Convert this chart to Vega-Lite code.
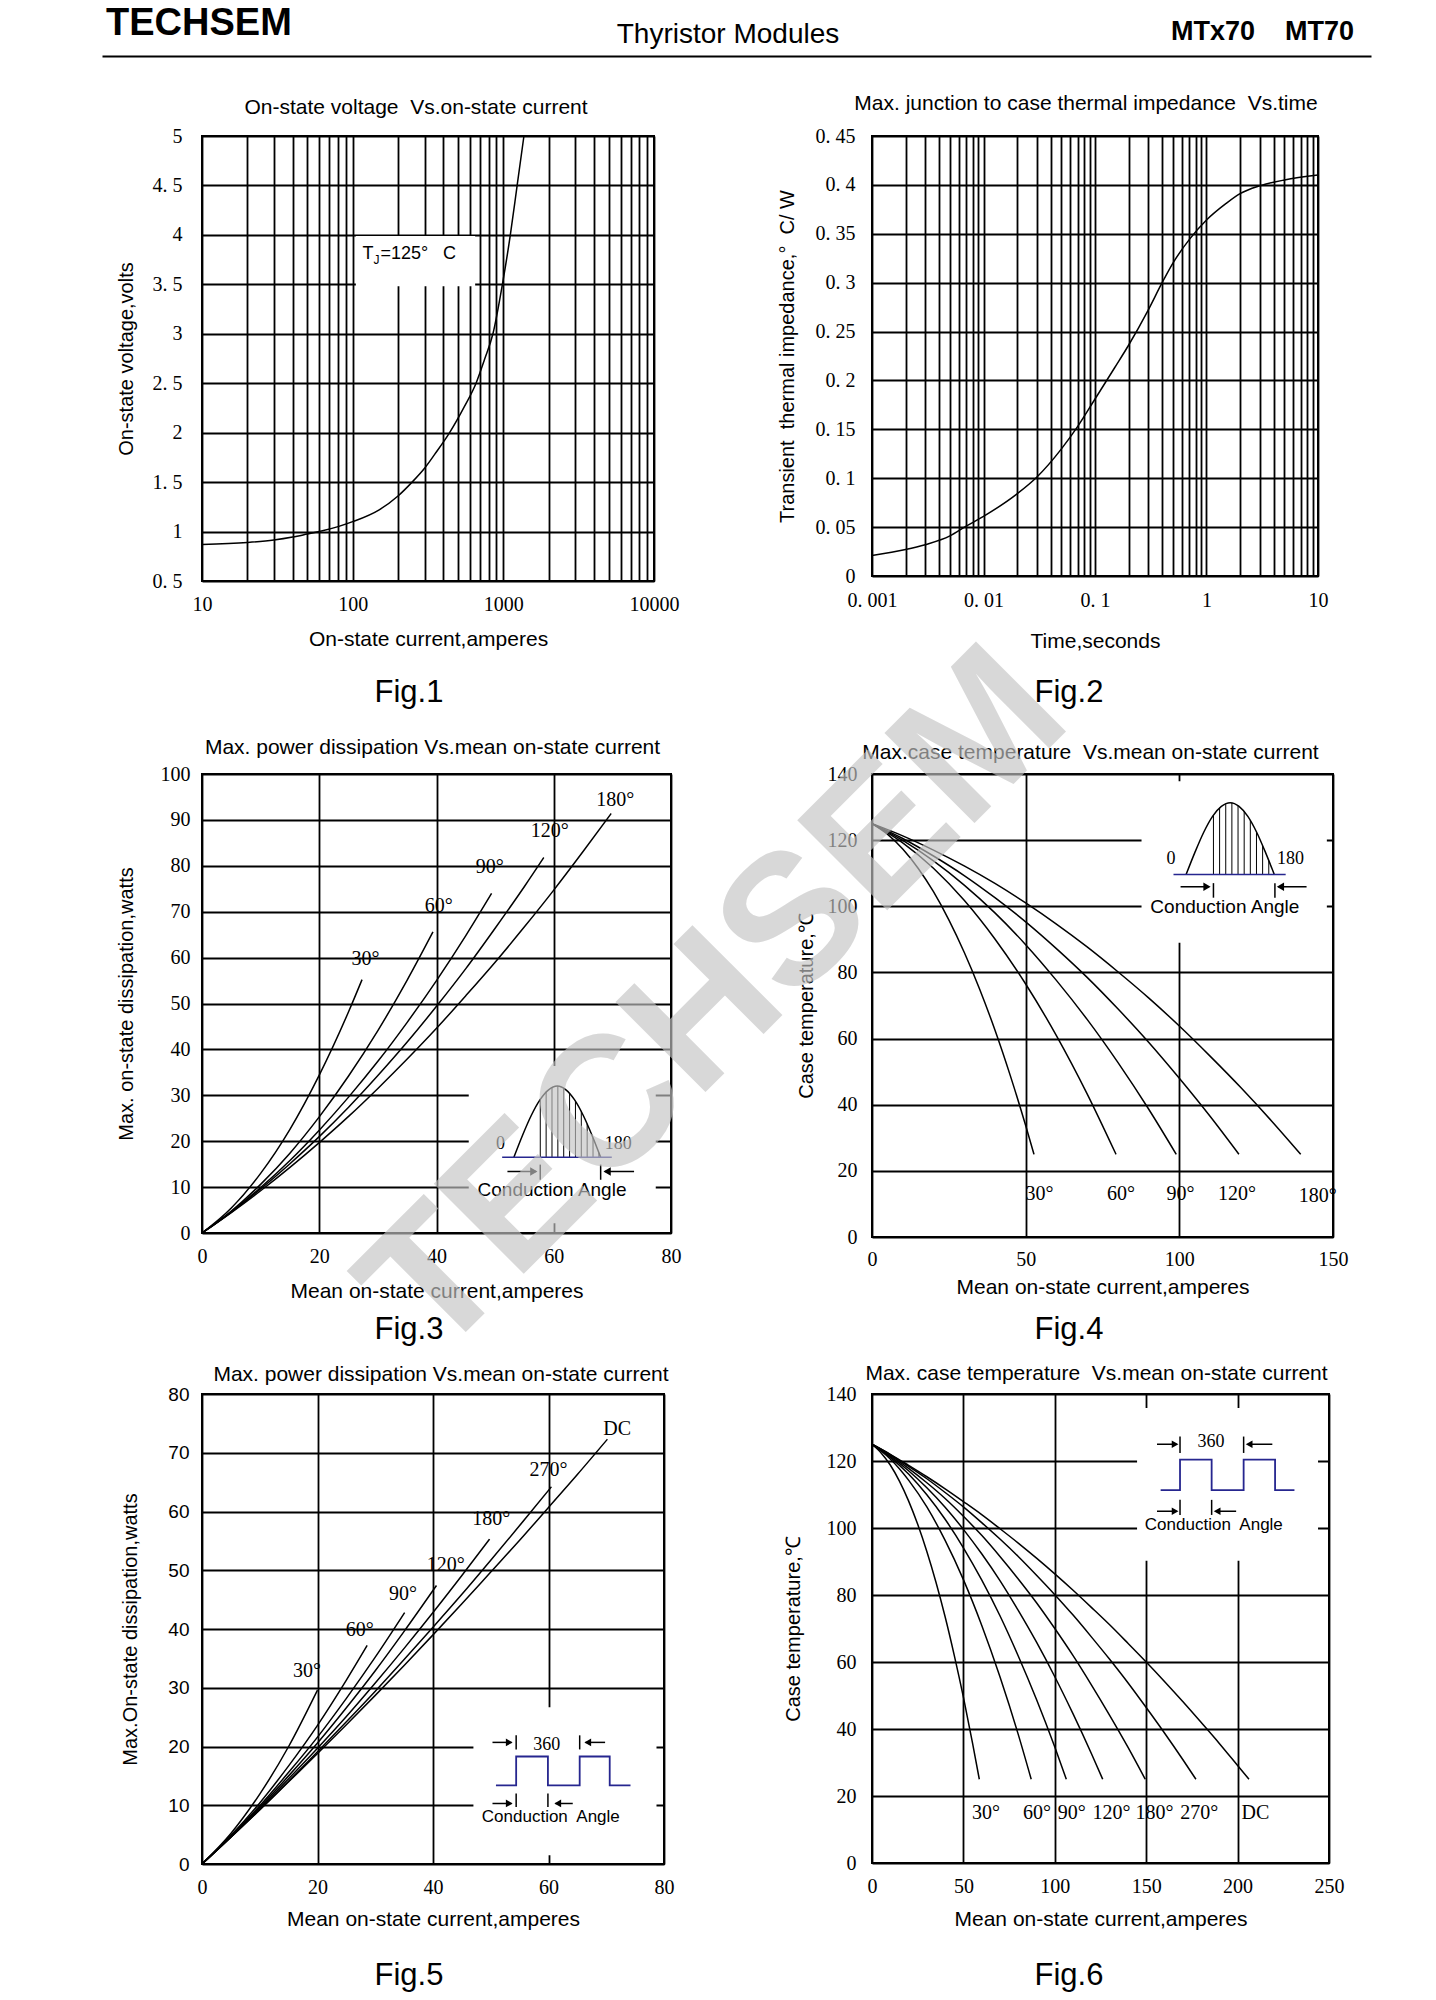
{
"$schema":"https://vega.github.io/schema/vega-lite/v6.json",
"padding":{"left":106,"top":5,"right":0,"bottom":0},
"autosize":{"type":"pad"},
"background":"white",
"config":{
 "view":{"stroke":"black","strokeWidth":2},
 "axis":{"grid":true,"gridColor":"black","gridWidth":1.8,"gridOpacity":1,"domain":false,"ticks":false,"labelFont":"Liberation Serif","labelFontSize":20,"labelColor":"black","titleFont":"Liberation Sans","titleFontSize":20,"titleFontWeight":"normal","titleColor":"black","labelOverlap":false,"labelBound":false,"labelFlush":false},
 "axisX":{"titleFontSize":21},
 "title":{"font":"Liberation Sans","fontSize":21,"fontWeight":"normal","color":"black","anchor":"middle","frame":"group","baseline":"alphabetic"}
},
"datasets":{
 "c1":[{"x":10,"y":0.87},{"x":20,"y":0.89},{"x":30,"y":0.915},{"x":40,"y":0.945},{"x":50,"y":0.975},{"x":60,"y":1.0},{"x":80,"y":1.05},{"x":100,"y":1.1},{"x":150,"y":1.22},{"x":200,"y":1.36},{"x":248,"y":1.5},{"x":300,"y":1.64},{"x":350,"y":1.78},{"x":440,"y":2.0},{"x":550,"y":2.26},{"x":659,"y":2.5},{"x":750,"y":2.74},{"x":853,"y":3.0},{"x":986,"y":3.5},{"x":1113,"y":4.0},{"x":1235,"y":4.5},{"x":1370,"y":5.0}],
 "w1":[{"x":105,"x2":650,"y":3.48,"y2":3.99}],
 "c2":[{"x":0.001,"y":0.021},{"x":0.002,"y":0.027},{"x":0.003,"y":0.032},{"x":0.005,"y":0.041},{"x":0.007,"y":0.051},{"x":0.01,"y":0.061},{"x":0.02,"y":0.084},{"x":0.03,"y":0.101},{"x":0.05,"y":0.13},{"x":0.07,"y":0.153},{"x":0.1,"y":0.181},{"x":0.15,"y":0.213},{"x":0.2,"y":0.236},{"x":0.3,"y":0.272},{"x":0.4,"y":0.3},{"x":0.5,"y":0.32},{"x":0.7,"y":0.344},{"x":1,"y":0.364},{"x":1.5,"y":0.381},{"x":2,"y":0.391},{"x":3,"y":0.399},{"x":5,"y":0.405},{"x":10,"y":0.41}],
 "c3":[
  {"s":"30","x":0,"y":0},{"s":"30","x":5,"y":5.45},{"s":"30","x":10,"y":13.0},{"s":"30","x":15,"y":22.6},{"s":"30","x":20,"y":34.4},{"s":"30","x":25,"y":48.2},{"s":"30","x":27.3,"y":55.2},
  {"s":"60","x":0,"y":0},{"s":"60","x":5,"y":4.77},{"s":"60","x":10,"y":10.6},{"s":"60","x":15,"y":17.4},{"s":"60","x":20,"y":25.3},{"s":"60","x":25,"y":34.2},{"s":"60","x":30,"y":44.1},{"s":"60","x":35,"y":55.1},{"s":"60","x":39.4,"y":65.6},
  {"s":"90","x":0,"y":0},{"s":"90","x":5,"y":4.62},{"s":"90","x":10,"y":9.9},{"s":"90","x":15,"y":15.8},{"s":"90","x":20,"y":22.4},{"s":"90","x":25,"y":29.6},{"s":"90","x":30,"y":37.4},{"s":"90","x":35,"y":45.9},{"s":"90","x":40,"y":55.0},{"s":"90","x":45,"y":64.8},{"s":"90","x":49.4,"y":74.0},
  {"s":"120","x":0,"y":0},{"s":"120","x":5,"y":4.56},{"s":"120","x":10,"y":9.6},{"s":"120","x":15,"y":15.1},{"s":"120","x":20,"y":21.0},{"s":"120","x":25,"y":27.4},{"s":"120","x":30,"y":34.3},{"s":"120","x":35,"y":41.6},{"s":"120","x":40,"y":49.4},{"s":"120","x":45,"y":57.6},{"s":"120","x":50,"y":66.4},{"s":"120","x":55,"y":75.5},{"s":"120","x":58.3,"y":81.8},
  {"s":"180","x":0,"y":0},{"s":"180","x":5,"y":4.44},{"s":"180","x":10,"y":9.2},{"s":"180","x":15,"y":14.3},{"s":"180","x":20,"y":19.7},{"s":"180","x":25,"y":25.4},{"s":"180","x":30,"y":31.5},{"s":"180","x":35,"y":37.9},{"s":"180","x":40,"y":44.6},{"s":"180","x":45,"y":51.7},{"s":"180","x":50,"y":59.0},{"s":"180","x":55,"y":66.7},{"s":"180","x":60,"y":74.7},{"s":"180","x":65,"y":83.1},{"s":"180","x":69.8,"y":91.4}],
 "w3":[{"x":45.5,"x2":77.4,"y":2.1,"y2":36.4}],
 "l3":[{"t":"30°","x":27.9,"y":59.8},{"t":"60°","x":40.4,"y":71.3},{"t":"90°","x":49.1,"y":79.8},{"t":"120°","x":59.3,"y":87.5},{"t":"180°","x":70.5,"y":94.4}],
 "s3":[{"x":53.2,"y":16.5},{"x":54.68,"y":21.3},{"x":56.16,"y":25.6},{"x":57.64,"y":29.0},{"x":59.12,"y":31.2},{"x":60.6,"y":32.0},{"x":62.08,"y":31.2},{"x":63.56,"y":29.0},{"x":65.04,"y":25.6},{"x":66.52,"y":21.3},{"x":68.0,"y":16.5}],
 "h3":[{"x":57.7,"y":16.5,"y2":29.2},{"x":58.7,"y":16.5,"y2":30.8},{"x":59.7,"y":16.5,"y2":31.7},{"x":60.7,"y":16.5,"y2":32.0},{"x":61.7,"y":16.5,"y2":31.6},{"x":62.7,"y":16.5,"y2":30.5},{"x":63.7,"y":16.5,"y2":28.8},{"x":64.7,"y":16.5,"y2":26.5},{"x":65.7,"y":16.5,"y2":23.8},{"x":66.7,"y":16.5,"y2":20.7},{"x":67.7,"y":16.5,"y2":17.5}],
 "b3":[{"x":51.2,"x2":69.9,"y":16.5}],
 "n3":[{"t":"0","x":50.9,"y":19.3},{"t":"180","x":71.0,"y":19.3}],
 "a3":[{"x":52.1,"x2":57.0,"y":13.4},{"x":73.7,"x2":68.7,"y":13.4}],
 "a3r":[{"x":56.6,"y":13.4}],
 "a3l":[{"x":69.1,"y":13.4}],
 "k3":[{"x":57.7,"y":11.6,"y2":14.9},{"x":68.0,"y":11.6,"y2":14.9}],
 "ca3":[{"t":"Conduction Angle","x":59.7,"y":9.3}],
 "c4":[
  {"s":"30","x":0,"y":125},{"s":"30","x":5,"y":121.8},{"s":"30","x":10,"y":117.3},{"s":"30","x":15,"y":111.5},{"s":"30","x":20,"y":104.4},{"s":"30","x":25,"y":95.9},{"s":"30","x":30,"y":86.1},{"s":"30","x":35,"y":75.0},{"s":"30","x":40,"y":62.6},{"s":"30","x":45,"y":48.8},{"s":"30","x":50,"y":33.7},{"s":"30","x":52.7,"y":25},
  {"s":"60","x":0,"y":125},{"s":"60","x":10,"y":119.2},{"s":"60","x":20,"y":111.5},{"s":"60","x":30,"y":101.8},{"s":"60","x":40,"y":90.1},{"s":"60","x":50,"y":76.5},{"s":"60","x":60,"y":60.9},{"s":"60","x":70,"y":43.3},{"s":"60","x":79.4,"y":25},
  {"s":"90","x":0,"y":125},{"s":"90","x":10,"y":119.9},{"s":"90","x":20,"y":113.7},{"s":"90","x":30,"y":106.4},{"s":"90","x":40,"y":98.0},{"s":"90","x":50,"y":88.4},{"s":"90","x":60,"y":77.6},{"s":"90","x":70,"y":65.8},{"s":"90","x":80,"y":52.8},{"s":"90","x":90,"y":38.7},{"s":"90","x":99,"y":25},
  {"s":"120","x":0,"y":125},{"s":"120","x":10,"y":120.5},{"s":"120","x":20,"y":115.2},{"s":"120","x":30,"y":109.3},{"s":"120","x":40,"y":102.6},{"s":"120","x":50,"y":95.3},{"s":"120","x":60,"y":87.2},{"s":"120","x":70,"y":78.5},{"s":"120","x":80,"y":69.0},{"s":"120","x":90,"y":58.9},{"s":"120","x":100,"y":48.0},{"s":"120","x":110,"y":36.5},{"s":"120","x":119.4,"y":25},
  {"s":"180","x":0,"y":125},{"s":"180","x":10,"y":121.3},{"s":"180","x":20,"y":117.0},{"s":"180","x":30,"y":112.2},{"s":"180","x":40,"y":106.9},{"s":"180","x":50,"y":101.0},{"s":"180","x":60,"y":94.6},{"s":"180","x":70,"y":87.7},{"s":"180","x":80,"y":80.2},{"s":"180","x":90,"y":72.3},{"s":"180","x":100,"y":63.8},{"s":"180","x":110,"y":54.7},{"s":"180","x":120,"y":45.2},{"s":"180","x":130,"y":35.1},{"s":"180","x":139.5,"y":25}],
 "w4":[{"x":87.7,"x2":148,"y":89,"y2":137.8}],
 "l4":[{"t":"30°","x":54.5,"y":13.1},{"t":"60°","x":81,"y":13.1},{"t":"90°","x":100.4,"y":13.1},{"t":"120°","x":118.8,"y":13.1},{"t":"180°","x":145,"y":12.5}],
 "s4":[{"x":102.2,"y":109.6},{"x":105.07,"y":116.3},{"x":107.94,"y":122.4},{"x":110.81,"y":127.2},{"x":113.68,"y":130.2},{"x":116.55,"y":131.3},{"x":119.42,"y":130.2},{"x":122.29,"y":127.2},{"x":125.16,"y":122.4},{"x":128.03,"y":116.3},{"x":130.9,"y":109.6}],
 "h4":[{"x":111.1,"y":109.6,"y2":127.5},{"x":113.1,"y":109.6,"y2":129.8},{"x":115.1,"y":109.6,"y2":131.0},{"x":117.1,"y":109.6,"y2":131.3},{"x":119.1,"y":109.6,"y2":130.5},{"x":121.1,"y":109.6,"y2":128.7},{"x":123.1,"y":109.6,"y2":126.0},{"x":125.1,"y":109.6,"y2":122.4},{"x":127.1,"y":109.6,"y2":118.3},{"x":129.1,"y":109.6,"y2":113.8}],
 "b4":[{"x":98.1,"x2":134.6,"y":109.6}],
 "n4":[{"t":"0","x":97.3,"y":114.3},{"t":"180","x":136.2,"y":114.3}],
 "a4":[{"x":100.4,"x2":109.6,"y":105.9},{"x":141.4,"x2":132.2,"y":105.9}],
 "a4r":[{"x":109.0,"y":105.9}],
 "a4l":[{"x":132.9,"y":105.9}],
 "k4":[{"x":111.1,"y":102.6,"y2":107.0},{"x":131.1,"y":102.6,"y2":107.0}],
 "ca4":[{"t":"Conduction Angle","x":114.8,"y":99.8}],
 "wm":[{"t":"TECHSEM","x":1.24,"y":2.49}],
 "c5":[
  {"s":"30","x":0,"y":0},{"s":"30","x":5,"y":5.2},{"s":"30","x":10,"y":11.9},{"s":"30","x":15,"y":20.0},{"s":"30","x":20,"y":29.6},
  {"s":"60","x":0,"y":0},{"s":"60","x":5,"y":4.85},{"s":"60","x":10,"y":10.4},{"s":"60","x":15,"y":16.7},{"s":"60","x":20,"y":23.6},{"s":"60","x":25,"y":31.3},{"s":"60","x":28.6,"y":37.2},
  {"s":"90","x":0,"y":0},{"s":"90","x":5,"y":4.73},{"s":"90","x":10,"y":9.9},{"s":"90","x":15,"y":15.6},{"s":"90","x":20,"y":21.6},{"s":"90","x":25,"y":28.2},{"s":"90","x":30,"y":35.2},{"s":"90","x":35.1,"y":42.8},
  {"s":"120","x":0,"y":0},{"s":"120","x":5,"y":4.66},{"s":"120","x":10,"y":9.66},{"s":"120","x":15,"y":15.0},{"s":"120","x":20,"y":20.6},{"s":"120","x":25,"y":26.6},{"s":"120","x":30,"y":32.9},{"s":"120","x":35,"y":39.6},{"s":"120","x":40.6,"y":47.4},
  {"s":"180","x":0,"y":0},{"s":"180","x":5,"y":4.6},{"s":"180","x":10,"y":9.42},{"s":"180","x":15,"y":14.5},{"s":"180","x":20,"y":19.7},{"s":"180","x":25,"y":25.1},{"s":"180","x":30,"y":30.8},{"s":"180","x":35,"y":36.7},{"s":"180","x":40,"y":42.8},{"s":"180","x":45,"y":49.1},{"s":"180","x":49.8,"y":55.3},
  {"s":"270","x":0,"y":0},{"s":"270","x":5,"y":4.57},{"s":"270","x":10,"y":9.27},{"s":"270","x":15,"y":14.1},{"s":"270","x":20,"y":19.1},{"s":"270","x":25,"y":24.2},{"s":"270","x":30,"y":29.4},{"s":"270","x":35,"y":34.8},{"s":"270","x":40,"y":40.3},{"s":"270","x":45,"y":45.9},{"s":"270","x":50,"y":51.7},{"s":"270","x":55,"y":57.6},{"s":"270","x":60.5,"y":64.2},
  {"s":"DC","x":0,"y":0},{"s":"DC","x":5,"y":4.56},{"s":"DC","x":10,"y":9.2},{"s":"DC","x":15,"y":14.0},{"s":"DC","x":20,"y":18.8},{"s":"DC","x":25,"y":23.7},{"s":"DC","x":30,"y":28.7},{"s":"DC","x":35,"y":33.8},{"s":"DC","x":40,"y":39.0},{"s":"DC","x":45,"y":44.3},{"s":"DC","x":50,"y":49.7},{"s":"DC","x":55,"y":55.1},{"s":"DC","x":60,"y":60.7},{"s":"DC","x":65,"y":66.3},{"s":"DC","x":70.2,"y":72.3}],
 "w5":[{"x":47,"x2":78.7,"y":1.5,"y2":26.7}],
 "l5":[{"t":"DC","x":71.9,"y":74.1},{"t":"270°","x":60.0,"y":67.0},{"t":"180°","x":50.1,"y":58.8},{"t":"120°","x":42.2,"y":50.9},{"t":"90°","x":34.8,"y":45.9},{"t":"60°","x":27.3,"y":39.9},{"t":"30°","x":18.2,"y":32.9}],
 "q5":[{"o":1,"x":50.9,"y":13.4},{"o":2,"x":54.4,"y":13.4},{"o":3,"x":54.4,"y":18.3},{"o":4,"x":59.9,"y":18.3},{"o":5,"x":59.9,"y":13.4},{"o":6,"x":65.4,"y":13.4},{"o":7,"x":65.4,"y":18.3},{"o":8,"x":70.6,"y":18.3},{"o":9,"x":70.6,"y":13.4},{"o":10,"x":74.2,"y":13.4}],
 "a5":[{"x":50.3,"x2":53.6,"y":20.7},{"x":69.8,"x2":66.4,"y":20.7},{"x":50.3,"x2":53.6,"y":10.3},{"x":64.2,"x2":61.2,"y":10.3}],
 "a5r":[{"x":53.2,"y":20.7},{"x":53.2,"y":10.3}],
 "a5l":[{"x":66.8,"y":20.7},{"x":61.6,"y":10.3}],
 "k5":[{"x":54.4,"y":19.5,"y2":21.9},{"x":65.4,"y":19.5,"y2":21.9},{"x":54.4,"y":9.7,"y2":12.0},{"x":59.9,"y":9.7,"y2":12.0}],
 "n5":[{"t":"360","x":59.7,"y":20.2}],
 "ca5":[{"t":"Conduction\u00a0 Angle","x":60.4,"y":8.0}],
 "c6":[
  {"s":"30","x":0,"y":125},{"s":"30","x":5,"y":122.4},{"s":"30","x":10,"y":118.8},{"s":"30","x":15,"y":114.0},{"s":"30","x":20,"y":108.1},{"s":"30","x":25,"y":101.1},{"s":"30","x":30,"y":93.0},{"s":"30","x":35,"y":83.8},{"s":"30","x":40,"y":73.5},{"s":"30","x":45,"y":62.0},{"s":"30","x":50,"y":49.5},{"s":"30","x":55,"y":35.8},{"s":"30","x":58.7,"y":25},
  {"s":"60","x":0,"y":125},{"s":"60","x":10,"y":120.6},{"s":"60","x":20,"y":114.3},{"s":"60","x":30,"y":106.3},{"s":"60","x":40,"y":96.3},{"s":"60","x":50,"y":84.6},{"s":"60","x":60,"y":71.0},{"s":"60","x":70,"y":55.6},{"s":"60","x":80,"y":38.4},{"s":"60","x":87.1,"y":25},
  {"s":"90","x":0,"y":125},{"s":"90","x":10,"y":121.1},{"s":"90","x":20,"y":116.1},{"s":"90","x":30,"y":109.9},{"s":"90","x":40,"y":102.6},{"s":"90","x":50,"y":94.1},{"s":"90","x":60,"y":84.5},{"s":"90","x":70,"y":73.8},{"s":"90","x":80,"y":61.8},{"s":"90","x":90,"y":48.8},{"s":"90","x":100,"y":34.6},{"s":"90","x":106.3,"y":25},
  {"s":"120","x":0,"y":125},{"s":"120","x":10,"y":121.4},{"s":"120","x":20,"y":117.1},{"s":"120","x":30,"y":112.0},{"s":"120","x":40,"y":106.2},{"s":"120","x":50,"y":99.6},{"s":"120","x":60,"y":92.3},{"s":"120","x":70,"y":84.3},{"s":"120","x":80,"y":75.4},{"s":"120","x":90,"y":65.9},{"s":"120","x":100,"y":55.6},{"s":"120","x":110,"y":44.5},{"s":"120","x":120,"y":32.7},{"s":"120","x":126.2,"y":25},
  {"s":"180","x":0,"y":125},{"s":"180","x":10,"y":121.7},{"s":"180","x":20,"y":117.8},{"s":"180","x":30,"y":113.5},{"s":"180","x":40,"y":108.8},{"s":"180","x":50,"y":103.5},{"s":"180","x":60,"y":97.8},{"s":"180","x":70,"y":91.5},{"s":"180","x":80,"y":84.8},{"s":"180","x":90,"y":77.7},{"s":"180","x":100,"y":70.0},{"s":"180","x":110,"y":61.9},{"s":"180","x":120,"y":53.2},{"s":"180","x":130,"y":44.1},{"s":"180","x":140,"y":34.6},{"s":"180","x":149.5,"y":25},
  {"s":"270","x":0,"y":125},{"s":"270","x":10,"y":121.9},{"s":"270","x":20,"y":118.4},{"s":"270","x":30,"y":114.7},{"s":"270","x":40,"y":110.6},{"s":"270","x":50,"y":106.3},{"s":"270","x":60,"y":101.6},{"s":"270","x":70,"y":96.7},{"s":"270","x":80,"y":91.5},{"s":"270","x":90,"y":85.9},{"s":"270","x":100,"y":80.1},{"s":"270","x":110,"y":74.0},{"s":"270","x":120,"y":67.5},{"s":"270","x":130,"y":60.8},{"s":"270","x":140,"y":53.8},{"s":"270","x":150,"y":46.4},{"s":"270","x":160,"y":38.8},{"s":"270","x":170,"y":30.9},{"s":"270","x":177.2,"y":25},
  {"s":"DC","x":0,"y":125},{"s":"DC","x":10,"y":122.0},{"s":"DC","x":20,"y":118.7},{"s":"DC","x":30,"y":115.3},{"s":"DC","x":40,"y":111.7},{"s":"DC","x":50,"y":107.9},{"s":"DC","x":60,"y":104.0},{"s":"DC","x":70,"y":99.8},{"s":"DC","x":80,"y":95.5},{"s":"DC","x":90,"y":91.0},{"s":"DC","x":100,"y":86.3},{"s":"DC","x":110,"y":81.4},{"s":"DC","x":120,"y":76.3},{"s":"DC","x":130,"y":71.1},{"s":"DC","x":140,"y":65.6},{"s":"DC","x":150,"y":60.0},{"s":"DC","x":160,"y":54.2},{"s":"DC","x":170,"y":48.2},{"s":"DC","x":180,"y":42.0},{"s":"DC","x":190,"y":35.7},{"s":"DC","x":200,"y":29.1},{"s":"DC","x":206.2,"y":25}],
 "w6":[{"x":145,"x2":244,"y":90.2,"y2":135.8}],
 "l6":[{"t":"30°","x":62.3,"y":14.8},{"t":"60°","x":90.3,"y":14.8},{"t":"90°","x":109.3,"y":14.8},{"t":"120°","x":131,"y":14.8},{"t":"180°","x":154.6,"y":14.8},{"t":"270°","x":179,"y":14.8},{"t":"DC","x":209.8,"y":14.8}],
 "q6":[{"o":1,"x":157.9,"y":111.3},{"o":2,"x":168.5,"y":111.3},{"o":3,"x":168.5,"y":120.4},{"o":4,"x":185.8,"y":120.4},{"o":5,"x":185.8,"y":111.3},{"o":6,"x":203.3,"y":111.3},{"o":7,"x":203.3,"y":120.4},{"o":8,"x":220.5,"y":120.4},{"o":9,"x":220.5,"y":111.3},{"o":10,"x":231.1,"y":111.3}],
 "a6":[{"x":155.9,"x2":166.7,"y":125},{"x":219,"x2":206.5,"y":125},{"x":155.9,"x2":166.7,"y":105},{"x":199.2,"x2":188.4,"y":105}],
 "a6r":[{"x":165.8,"y":125},{"x":165.8,"y":105}],
 "a6l":[{"x":206.3,"y":125},{"x":188.8,"y":105}],
 "k6":[{"x":168.5,"y":122.4,"y2":127.3},{"x":203.3,"y":122.4,"y2":127.3},{"x":168.5,"y":103.9,"y2":108.4},{"x":185.8,"y":103.9,"y2":108.4}],
 "n6":[{"t":"360","x":185.4,"y":125.6}],
 "ca6":[{"t":"Conduction\u00a0 Angle","x":187,"y":100.8}]
},
"spacing":36,
"vconcat":[
 {
  "width":1169,"height":50,
  "view":{"stroke":null},
  "data":{"values":[{"slot":"left","label":"TECHSEM"},{"slot":"center","label":"Thyristor Modules"},{"slot":"right","label":"MTx70\u00a0\u00a0\u00a0\u00a0MT70"}]},
  "encoding":{
   "x":{"field":"slot","type":"nominal","scale":{"type":"point","domain":["left","center","right"],"range":[-100,1169],"padding":0},"axis":{"orient":"bottom","domain":true,"domainWidth":2,"domainColor":"black","ticks":false,"labels":false,"title":null,"grid":false}},
   "text":{"field":"label"}
  },
  "layer":[
   {"transform":[{"filter":"datum.slot=='left'"}],"mark":{"type":"text","align":"left","baseline":"alphabetic","font":"Liberation Sans","fontWeight":"bold","fontSize":38,"dx":4,"dy":4,"color":"black"}},
   {"transform":[{"filter":"datum.slot=='center'"}],"mark":{"type":"text","align":"center","baseline":"alphabetic","font":"Liberation Sans","fontSize":28,"dx":-8.5,"dy":12,"color":"black"}},
   {"transform":[{"filter":"datum.slot=='right'"}],"mark":{"type":"text","align":"right","baseline":"alphabetic","font":"Liberation Sans","fontWeight":"bold","fontSize":27,"dx":-17,"dy":9,"color":"black"}}
  ]
 },
 {
  "columns":2,
  "bounds":"flush",
  "spacing":{"row":0,"column":201},
  "concat":[
   {
    "width":452,"height":445,
    "title":{"text":"On-state voltage\u00a0 Vs.on-state current","dx":-12,"offset":8},
    "encoding":{
     "x":{"field":"x","type":"quantitative","scale":{"type":"log","domain":[10,10000],"nice":false},"axis":{"title":"On-state current,amperes","values":[10,20,30,40,50,60,70,80,90,100,200,300,400,500,600,700,800,900,1000,2000,3000,4000,5000,6000,7000,8000,9000,10000],"labelExpr":"indexof([10,100,1000,10000], datum.value) >= 0 ? format(datum.value, 'd') : ''","labelPadding":13,"titlePadding":14}},
     "y":{"field":"y","type":"quantitative","scale":{"domain":[0.5,5],"nice":false,"zero":false},"axis":{"title":"On-state voltage,volts","values":[0.5,1,1.5,2,2.5,3,3.5,4,4.5,5],"labelExpr":"replace(format(datum.value,'.1~f'),'.','. ')","labelPadding":20,"titleX":-66}}
    },
    "layer":[
     {"data":{"name":"w1"},"mark":{"type":"rect","fill":"white"},"encoding":{"x2":{"field":"x2"},"y2":{"field":"y2"}}},
     {"data":{"name":"c1"},"mark":{"type":"line","color":"black","strokeWidth":1.5,"interpolate":"monotone"}},
     {"data":{"values":[{"x":116,"y":3.753,"t":"T"}]},"mark":{"type":"text","font":"Liberation Sans","fontSize":18,"align":"left","baseline":"alphabetic","color":"black"},"encoding":{"text":{"field":"t"}}},
     {"data":{"values":[{"x":116,"y":3.753,"t":"J"}]},"mark":{"type":"text","font":"Liberation Sans","fontSize":12,"align":"left","baseline":"alphabetic","dx":11,"dy":5,"color":"black"},"encoding":{"text":{"field":"t"}}},
     {"data":{"values":[{"x":116,"y":3.753,"t":"=125°\u00a0\u00a0\u00a0C"}]},"mark":{"type":"text","font":"Liberation Sans","fontSize":18,"align":"left","baseline":"alphabetic","dx":18,"color":"black"},"encoding":{"text":{"field":"t"}}}
    ]
   },
   {
    "width":446,"height":440,
    "title":{"text":"Max. junction to case thermal impedance\u00a0 Vs.time","dx":-9,"offset":12},
    "encoding":{
     "x":{"field":"x","type":"quantitative","scale":{"type":"log","domain":[0.001,10],"nice":false},"axis":{"title":"Time,seconds","values":[0.001,0.002,0.003,0.004,0.005,0.006,0.007,0.008,0.009,0.01,0.02,0.03,0.04,0.05,0.06,0.07,0.08,0.09,0.1,0.2,0.3,0.4,0.5,0.6,0.7,0.8,0.9,1,2,3,4,5,6,7,8,9,10],"labelExpr":"datum.value == 0.001 ? '0. 001' : datum.value == 0.01 ? '0. 01' : datum.value == 0.1 ? '0. 1' : datum.value == 1 ? '1' : datum.value == 10 ? '10' : ''","labelPadding":14,"titlePadding":20}},
     "y":{"field":"y","type":"quantitative","scale":{"domain":[0,0.45],"nice":false},"axis":{"title":"Transient\u00a0 thermal impedance,°\u00a0 C/ W","values":[0,0.05,0.1,0.15,0.2,0.25,0.3,0.35,0.4,0.45],"labelExpr":"replace(format(datum.value,'.2~f'),'.','. ')","labelPadding":17,"titleX":-75}}
    },
    "layer":[
     {"data":{"name":"c2"},"mark":{"type":"line","color":"black","strokeWidth":1.5,"interpolate":"monotone"}}
    ]
   },
   {"width":414,"height":193,"view":{"stroke":null},"data":{"values":[{"fig":"Fig.1"}]},"mark":{"type":"text","font":"Liberation Sans","fontSize":31,"baseline":"middle","dy":15.5,"color":"black"},"encoding":{"text":{"field":"fig"}}},
   {"width":394,"height":193,"view":{"stroke":null},"data":{"values":[{"fig":"Fig.2"}]},"mark":{"type":"text","font":"Liberation Sans","fontSize":31,"baseline":"middle","dy":15.5,"color":"black"},"encoding":{"text":{"field":"fig"}}},
   {
    "width":469,"height":459,
    "title":{"text":"Max. power dissipation Vs.mean on-state current","dx":-4,"offset":6},
    "encoding":{
     "x":{"field":"x","type":"quantitative","scale":{"domain":[0,80],"nice":false},"axis":{"title":"Mean on-state current,amperes","values":[0,20,40,60,80],"labelPadding":13,"titlePadding":14}},
     "y":{"field":"y","type":"quantitative","scale":{"domain":[0,100],"nice":false},"axis":{"title":"Max. on-state dissipation,watts","values":[0,10,20,30,40,50,60,70,80,90,100],"labelPadding":12,"titleX":-66}}
    },
    "layer":[
     {"data":{"name":"w3"},"mark":{"type":"rect","fill":"white"},"encoding":{"x2":{"field":"x2"},"y2":{"field":"y2"}}},
     {"data":{"name":"c3"},"mark":{"type":"line","color":"black","strokeWidth":1.5,"interpolate":"monotone"},"encoding":{"detail":{"field":"s"}}},
     {"data":{"name":"l3"},"mark":{"type":"text","font":"Liberation Serif","fontSize":20,"color":"black"},"encoding":{"text":{"field":"t"}}},
     {"data":{"name":"h3"},"mark":{"type":"rule","color":"black","strokeWidth":1},"encoding":{"y2":{"field":"y2"}}},
     {"data":{"name":"s3"},"mark":{"type":"line","color":"black","strokeWidth":1.5,"interpolate":"monotone"}},
     {"data":{"name":"b3"},"mark":{"type":"rule","color":"#26268f","strokeWidth":1.5},"encoding":{"x2":{"field":"x2"}}},
     {"data":{"name":"n3"},"mark":{"type":"text","font":"Liberation Serif","fontSize":18,"color":"black"},"encoding":{"text":{"field":"t"}}},
     {"data":{"name":"a3"},"mark":{"type":"rule","color":"black","strokeWidth":1.5},"encoding":{"x2":{"field":"x2"}}},
     {"data":{"name":"a3r"},"mark":{"type":"point","shape":"triangle-right","filled":true,"color":"black","size":70,"opacity":1}},
     {"data":{"name":"a3l"},"mark":{"type":"point","shape":"triangle-left","filled":true,"color":"black","size":70,"opacity":1}},
     {"data":{"name":"k3"},"mark":{"type":"rule","color":"black","strokeWidth":1.5},"encoding":{"y2":{"field":"y2"}}},
     {"data":{"name":"ca3"},"mark":{"type":"text","font":"Liberation Sans","fontSize":19,"color":"black"},"encoding":{"text":{"field":"t"}}}
    ]
   },
   {
    "width":461,"height":463,
    "title":{"text":"Max.case temperature\u00a0 Vs.mean on-state current","dx":-12,"offset":1},
    "encoding":{
     "x":{"field":"x","type":"quantitative","scale":{"domain":[0,150],"nice":false},"axis":{"title":"Mean on-state current,amperes","values":[0,50,100,150],"labelPadding":12,"titlePadding":7}},
     "y":{"field":"y","type":"quantitative","scale":{"domain":[0,140],"nice":false},"axis":{"title":"Case temperature,℃","values":[0,20,40,60,80,100,120,140],"labelPadding":15,"titleX":-56}}
    },
    "layer":[
     {"data":{"name":"w4"},"mark":{"type":"rect","fill":"white"},"encoding":{"x2":{"field":"x2"},"y2":{"field":"y2"}}},
     {"data":{"name":"c4"},"mark":{"type":"line","color":"black","strokeWidth":1.5,"interpolate":"monotone"},"encoding":{"detail":{"field":"s"}}},
     {"data":{"name":"l4"},"mark":{"type":"text","font":"Liberation Serif","fontSize":20,"color":"black"},"encoding":{"text":{"field":"t"}}},
     {"data":{"name":"h4"},"mark":{"type":"rule","color":"black","strokeWidth":1},"encoding":{"y2":{"field":"y2"}}},
     {"data":{"name":"s4"},"mark":{"type":"line","color":"black","strokeWidth":1.5,"interpolate":"monotone"}},
     {"data":{"name":"b4"},"mark":{"type":"rule","color":"#26268f","strokeWidth":1.5},"encoding":{"x2":{"field":"x2"}}},
     {"data":{"name":"n4"},"mark":{"type":"text","font":"Liberation Serif","fontSize":18,"color":"black"},"encoding":{"text":{"field":"t"}}},
     {"data":{"name":"a4"},"mark":{"type":"rule","color":"black","strokeWidth":1.5},"encoding":{"x2":{"field":"x2"}}},
     {"data":{"name":"a4r"},"mark":{"type":"point","shape":"triangle-right","filled":true,"color":"black","size":70,"opacity":1}},
     {"data":{"name":"a4l"},"mark":{"type":"point","shape":"triangle-left","filled":true,"color":"black","size":70,"opacity":1}},
     {"data":{"name":"k4"},"mark":{"type":"rule","color":"black","strokeWidth":1.5},"encoding":{"y2":{"field":"y2"}}},
     {"data":{"name":"ca4"},"mark":{"type":"text","font":"Liberation Sans","fontSize":19,"color":"black"},"encoding":{"text":{"field":"t"}}}
    ]
   },
   {"width":414,"height":157,"view":{"stroke":null},
    "layer":[
     {"data":{"values":[{"fig":"Fig.3"}]},"mark":{"type":"text","font":"Liberation Sans","fontSize":31,"baseline":"middle","dy":14.5,"color":"black"},"encoding":{"text":{"field":"fig"}}},
     {"data":{"name":"wm"},"mark":{"type":"text","font":"Liberation Sans","fontWeight":"bold","fontSize":185,"angle":315,"align":"center","baseline":"middle","color":"#c4c4c4","opacity":0.65},"encoding":{"x":{"field":"x","type":"quantitative","scale":{"domain":[0,1],"nice":false},"axis":null},"y":{"field":"y","type":"quantitative","scale":{"domain":[0,1],"nice":false},"axis":null},"text":{"field":"t"}}}
    ]},
   {"width":394,"height":157,"view":{"stroke":null},"data":{"values":[{"fig":"Fig.4"}]},"mark":{"type":"text","font":"Liberation Sans","fontSize":31,"baseline":"middle","dy":14.5,"color":"black"},"encoding":{"text":{"field":"fig"}}},
   {
    "width":462,"height":470,
    "title":{"text":"Max. power dissipation Vs.mean on-state current","dx":8,"offset":0},
    "encoding":{
     "x":{"field":"x","type":"quantitative","scale":{"domain":[0,80],"nice":false},"axis":{"title":"Mean on-state current,amperes","values":[0,20,40,60,80],"labelPadding":13,"titlePadding":11}},
     "y":{"field":"y","type":"quantitative","scale":{"domain":[0,80],"nice":false},"axis":{"title":"Max.On-state dissipation,watts","values":[0,10,20,30,40,50,60,70,80],"labelFont":"Liberation Sans","labelFontSize":19,"labelPadding":13,"titleX":-62}}
    },
    "layer":[
     {"data":{"name":"w5"},"mark":{"type":"rect","fill":"white"},"encoding":{"x2":{"field":"x2"},"y2":{"field":"y2"}}},
     {"data":{"name":"c5"},"mark":{"type":"line","color":"black","strokeWidth":1.5,"interpolate":"monotone"},"encoding":{"detail":{"field":"s"}}},
     {"data":{"name":"l5"},"mark":{"type":"text","font":"Liberation Serif","fontSize":20,"color":"black"},"encoding":{"text":{"field":"t"}}},
     {"data":{"name":"q5"},"mark":{"type":"line","color":"#26268f","strokeWidth":1.8},"encoding":{"order":{"field":"o","type":"quantitative"}}},
     {"data":{"name":"a5"},"mark":{"type":"rule","color":"black","strokeWidth":1.5},"encoding":{"x2":{"field":"x2"}}},
     {"data":{"name":"a5r"},"mark":{"type":"point","shape":"triangle-right","filled":true,"color":"black","size":60,"opacity":1}},
     {"data":{"name":"a5l"},"mark":{"type":"point","shape":"triangle-left","filled":true,"color":"black","size":60,"opacity":1}},
     {"data":{"name":"k5"},"mark":{"type":"rule","color":"black","strokeWidth":1.5},"encoding":{"y2":{"field":"y2"}}},
     {"data":{"name":"n5"},"mark":{"type":"text","font":"Liberation Serif","fontSize":18,"color":"black"},"encoding":{"text":{"field":"t"}}},
     {"data":{"name":"ca5"},"mark":{"type":"text","font":"Liberation Sans","fontSize":17,"color":"black"},"encoding":{"text":{"field":"t"}}}
    ]
   },
   {
    "width":457,"height":469,
    "title":{"text":"Max. case temperature\u00a0 Vs.mean on-state current","dx":-4,"offset":0},
    "encoding":{
     "x":{"field":"x","type":"quantitative","scale":{"domain":[0,250],"nice":false},"axis":{"title":"Mean on-state current,amperes","values":[0,50,100,150,200,250],"labelPadding":13,"titlePadding":12}},
     "y":{"field":"y","type":"quantitative","scale":{"domain":[0,140],"nice":false},"axis":{"title":"Case temperature,℃","values":[0,20,40,60,80,100,120,140],"labelPadding":16,"titleX":-69}}
    },
    "layer":[
     {"data":{"name":"w6"},"mark":{"type":"rect","fill":"white"},"encoding":{"x2":{"field":"x2"},"y2":{"field":"y2"}}},
     {"data":{"name":"c6"},"mark":{"type":"line","color":"black","strokeWidth":1.5,"interpolate":"monotone"},"encoding":{"detail":{"field":"s"}}},
     {"data":{"name":"l6"},"mark":{"type":"text","font":"Liberation Serif","fontSize":20,"color":"black"},"encoding":{"text":{"field":"t"}}},
     {"data":{"name":"q6"},"mark":{"type":"line","color":"#26268f","strokeWidth":1.8},"encoding":{"order":{"field":"o","type":"quantitative"}}},
     {"data":{"name":"a6"},"mark":{"type":"rule","color":"black","strokeWidth":1.5},"encoding":{"x2":{"field":"x2"}}},
     {"data":{"name":"a6r"},"mark":{"type":"point","shape":"triangle-right","filled":true,"color":"black","size":60,"opacity":1}},
     {"data":{"name":"a6l"},"mark":{"type":"point","shape":"triangle-left","filled":true,"color":"black","size":60,"opacity":1}},
     {"data":{"name":"k6"},"mark":{"type":"rule","color":"black","strokeWidth":1.5},"encoding":{"y2":{"field":"y2"}}},
     {"data":{"name":"n6"},"mark":{"type":"text","font":"Liberation Serif","fontSize":18,"color":"black"},"encoding":{"text":{"field":"t"}}},
     {"data":{"name":"ca6"},"mark":{"type":"text","font":"Liberation Sans","fontSize":17,"color":"black"},"encoding":{"text":{"field":"t"}}}
    ]
   },
   {"width":414,"height":130,"view":{"stroke":null},"data":{"values":[{"fig":"Fig.5"}]},"mark":{"type":"text","font":"Liberation Sans","fontSize":31,"baseline":"middle","dy":47,"color":"black"},"encoding":{"text":{"field":"fig"}}},
   {"width":394,"height":130,"view":{"stroke":null},"data":{"values":[{"fig":"Fig.6"}]},"mark":{"type":"text","font":"Liberation Sans","fontSize":31,"baseline":"middle","dy":47,"color":"black"},"encoding":{"text":{"field":"fig"}}}
  ]
 }
]
}
